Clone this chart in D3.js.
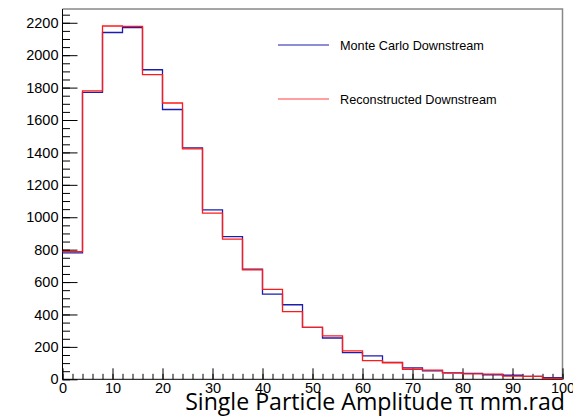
<!DOCTYPE html>
<html>
<head>
<meta charset="utf-8">
<script src="https://cdn.jsdelivr.net/npm/d3@7"></script>
<style>
  body { margin: 0; background: #fff; }
  svg { display: block; }
  .tick text { font-family: "Liberation Sans", Arial, sans-serif; font-size: 14.5px; fill: #000; }
</style>
</head>
<body>
<div id="chart"></div>
<script>
// bin lower edges (width 4), counts
var binStart = [0, 4, 8, 12, 16, 20, 24, 28, 32, 36, 40, 44, 48, 52, 56, 60, 64, 68, 72, 76, 80, 84, 88, 92, 96];
var binWidth = 4;
var mcValues = [780, 1770, 2140, 2170, 1910, 1665, 1428, 1045, 880, 680, 525, 460, 321, 255, 165, 145, 105, 70, 52, 40, 37, 28, 25, 18, 10];
var recoValues = [788, 1780, 2180, 2178, 1880, 1705, 1422, 1025, 865, 676, 555, 418, 321, 268, 176, 115, 102, 62, 57, 40, 33, 32, 19, 18, 6];
var xTicks = [0, 10, 20, 30, 40, 50, 60, 70, 80, 90, 100];
var yTicks = [0, 200, 400, 600, 800, 1000, 1200, 1400, 1600, 1800, 2000, 2200];
var legendNames = ["Monte Carlo Downstream", "Reconstructed Downstream"];
var xTitle = "Single Particle Amplitude \u03c0 mm.rad";

var W = 573, H = 417;
var fLeft = 62.5, fRight = 562.5, fTop = 9, fBottom = 379.3;

var svg = d3.select("#chart").append("svg")
    .attr("width", W)
    .attr("height", H);

var x = d3.scaleLinear().domain([0, 100]).range([fLeft, fRight]);
var y = d3.scaleLinear().domain([0, 2285]).range([fBottom, fTop]);

// frame top/right
svg.append("path")
    .attr("d", "M" + fLeft + "," + fTop + "H" + fRight + "V" + fBottom)
    .attr("fill", "none")
    .attr("stroke", "#888")
    .attr("stroke-width", 1.5);

// minor ticks
var yMinor = d3.range(0, 2285, 50);
svg.append("g")
    .attr("transform", "translate(" + fLeft + ",0)")
    .call(d3.axisLeft(y).tickValues(yMinor).tickSize(-7.5).tickFormat(""))
    .call(function(g) { g.select(".domain").remove(); });
var xMinor = d3.range(0, 101, 2);
svg.append("g")
    .attr("transform", "translate(0," + fBottom + ")")
    .call(d3.axisBottom(x).tickValues(xMinor).tickSize(-5.5).tickFormat(""))
    .call(function(g) { g.select(".domain").remove(); });

// major axes
svg.append("g")
    .attr("transform", "translate(" + fLeft + ",0)")
    .call(d3.axisLeft(y).tickValues(yTicks).tickSize(-15).tickPadding(4).tickFormat(d3.format("d")))
    .call(function(g) { g.select(".domain").attr("d", "M0," + fTop + "V" + fBottom); });
svg.append("g")
    .attr("transform", "translate(0," + fBottom + ")")
    .call(d3.axisBottom(x).tickValues(xTicks).tickSize(-11).tickPadding(3).tickFormat(d3.format("d")))
    .call(function(g) { g.select(".domain").attr("d", "M" + fLeft + ",0H" + fRight); });

svg.selectAll(".tick line").attr("stroke", "#000");
svg.selectAll(".domain").attr("stroke", "#000");

// step path for histogram
function stepPath(vals) {
    var p = "M" + x(binStart[0]) + "," + y(vals[0]);
    vals.forEach(function(v, i) {
        if (i > 0) p += "V" + y(v);
        p += "H" + x(binStart[i] + binWidth);
    });
    return p;
}

svg.append("path")
    .attr("d", stepPath(mcValues))
    .attr("fill", "none")
    .attr("stroke", "#1c1cb0")
    .attr("stroke-width", 1.3);

svg.append("path")
    .attr("d", stepPath(recoValues))
    .attr("fill", "none")
    .attr("stroke", "#ff1a1a")
    .attr("stroke-width", 1.3);

// legend
var legColors = ["#1c1cb0", "#ff4040"];
var leg = svg.append("g");
legendNames.forEach(function(name, i) {
    var ly = 45 + i * 54;
    leg.append("line")
        .attr("x1", 278).attr("x2", 329)
        .attr("y1", ly).attr("y2", ly)
        .attr("stroke", legColors[i])
        .attr("stroke-width", 1.2);
    leg.append("text")
        .attr("x", 340)
        .attr("y", ly + 4.5)
        .attr("font-family", "Liberation Sans, Arial, sans-serif")
        .attr("font-size", "12.7px")
        .attr("fill", "#000")
        .text(name);
});

// x title, sized so it spans the same width as in the picture
var title = svg.append("text")
    .attr("x", 565)
    .attr("y", 410)
    .attr("text-anchor", "end")
    .attr("font-family", "Open Sans, sans-serif")
    .attr("font-size", "22px")
    .attr("fill", "#000")
    .text(xTitle);
var tw = title.node().getComputedTextLength();
title.attr("font-size", (22 * 380 / tw) + "px");
</script>
</body>
</html>
